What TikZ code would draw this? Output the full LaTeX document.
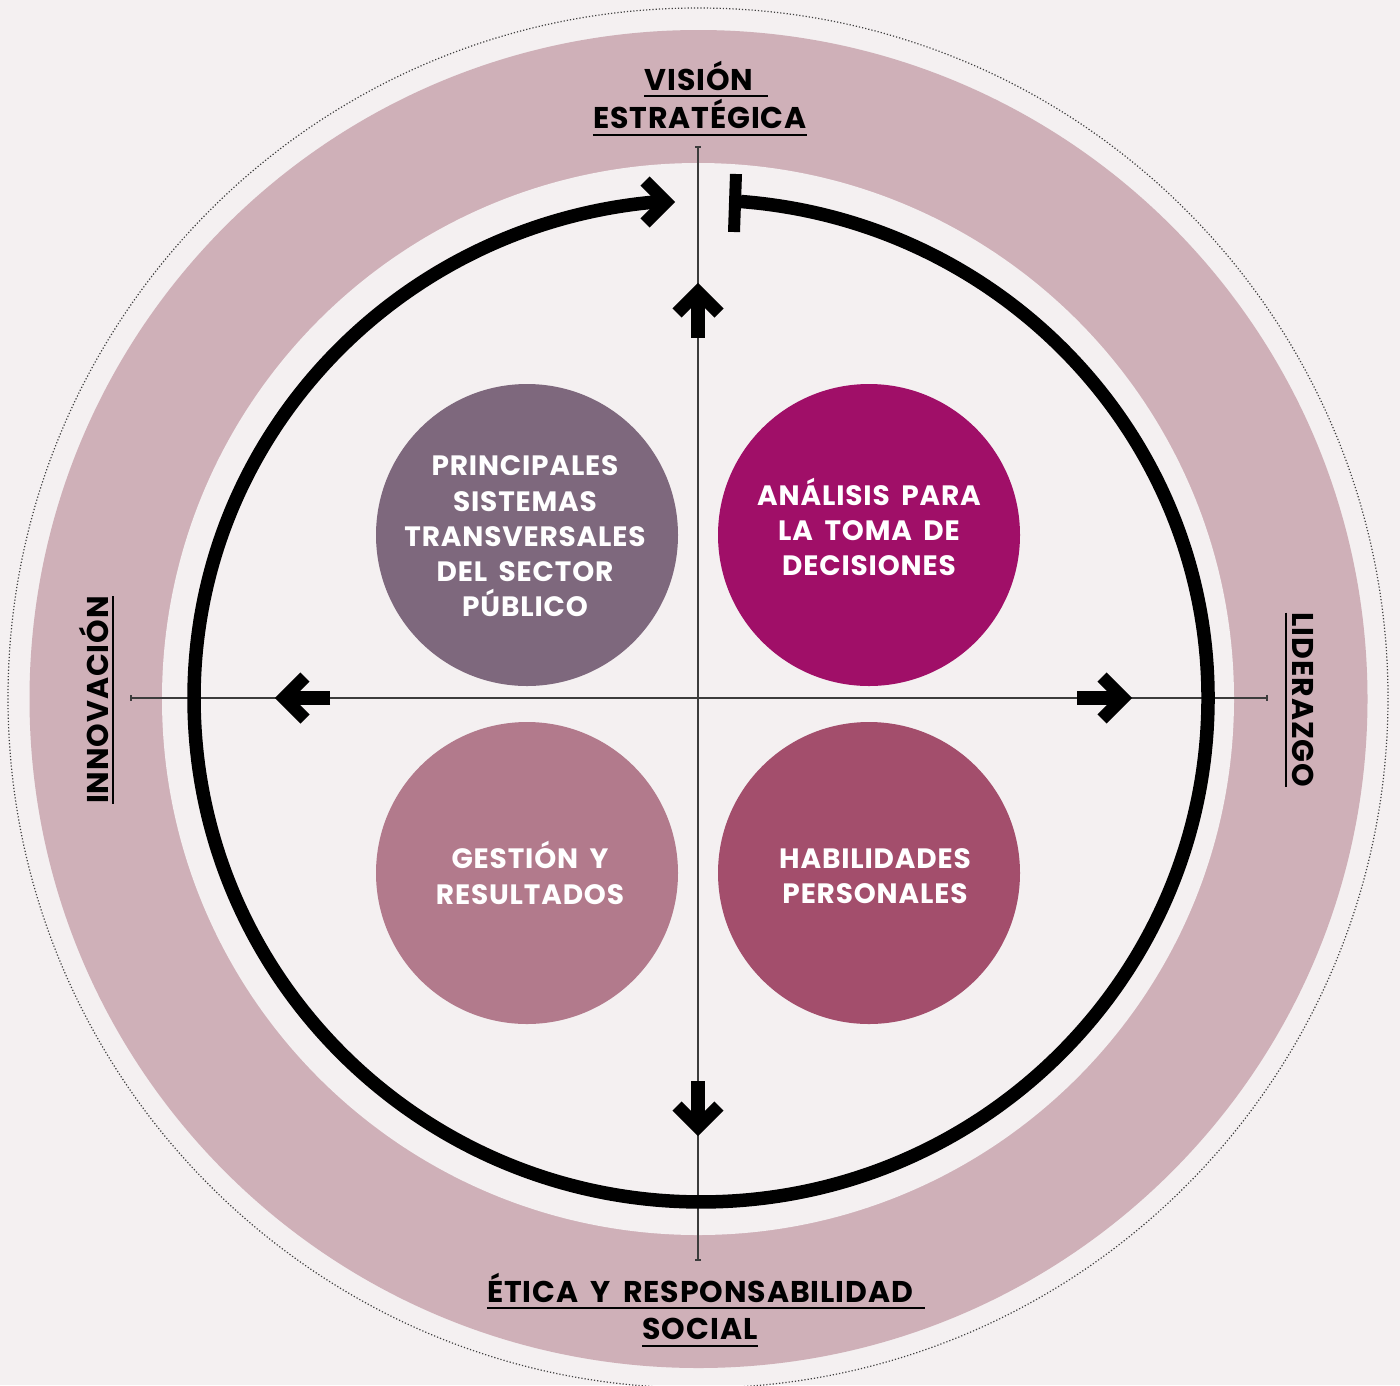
\documentclass[tikz,border=0pt]{standalone}
\usepackage{fontspec}
\setmainfont{Poppins}[LetterSpace=3,WordSpace=1.7]
\definecolor{bg}{HTML}{F4F0F1}
\definecolor{ringc}{HTML}{CFB0B8}
\definecolor{cpur}{HTML}{7E687D}
\definecolor{cmag}{HTML}{A00F68}
\definecolor{crose}{HTML}{B27A8C}
\definecolor{cwine}{HTML}{A34E6C}
\definecolor{axisgray}{HTML}{3C3C3C}
\definecolor{dotgray}{HTML}{404040}
\tikzset{
  axarrow/.pic={
    \draw[line width=13pt, line join=miter, miter limit=4] (-21,-21) -- (0,0) -- (-21,21);
    \draw[line width=14pt] (-46,0) -- (0,0);
  }
}
\begin{document}
\begin{tikzpicture}[x=1pt,y=-1pt,
  lab/.style={font=\fontsize{30}{36}\selectfont\bfseries, inner sep=0pt, text=black},
  ctext/.style={font=\fontsize{28}{35.25}\selectfont\bfseries, text=white, align=center, inner sep=0pt},
  bubble/.style={circle, minimum size=302pt, inner sep=0pt, draw=none},
  uline/.style={line width=2pt, draw=black},
  axisline/.style={line width=1.6pt, draw=axisgray},
  bigring/.style={line width=13.5pt, draw=black},
  chevron/.style={line width=13pt, line join=miter, miter limit=4, draw=black},
]
\fill[bg] (0,0) rectangle (1400,1385);
\useasboundingbox (0,0) rectangle (1400,1385);
% outer dotted circle
\draw[dotgray, line width=1.2pt, dash pattern=on 1.2pt off 2pt] (698,698) circle[radius=690];
% pink ring
\fill[ringc] (698.5,699) circle[radius=669];
\fill[bg] (698,699) circle[radius=536];
% axes
\draw[axisline] (698,147) -- (698,1260);
\draw[axisline] (695,147) -- (701,147);
\draw[axisline] (695,1260) -- (701,1260);
\draw[axisline] (131,698) -- (1267,698);
\draw[axisline] (131,695) -- (131,701);
\draw[axisline] (1267,695) -- (1267,701);
% big black circle with gap
\draw[bigring] (740.8,201.5)
  arc[start angle=274.5, end angle=360, x radius=507, y radius=498]
  arc[start angle=0, end angle=180, x radius=507, y radius=504]
  arc[start angle=180, end angle=265.5, x radius=507, y radius=498]
  -- (666,202);
\draw[chevron] (645,181) -- (666,202) -- (645,223);
\draw[line width=12pt] (736,174) -- (734,232);
% axis arrows
\pic[rotate=90] at (698,292) {axarrow};
\pic at (1123,698) {axarrow};
\pic[rotate=180] at (284,698) {axarrow};
\pic[rotate=-90] at (698,1127) {axarrow};
% bubbles
\node[bubble, fill=cpur] (b1) at (527,535) {};
\node[bubble, fill=cmag] (b2) at (869,535) {};
\node[bubble, fill=crose] (b3) at (527,873) {};
\node[bubble, fill=cwine] (b4) at (869,873) {};
\node[ctext] (t1) at (525,536.5) {PRINCIPALES\\SISTEMAS\\TRANSVERSALES\\DEL SECTOR\\PÚBLICO};
\node[ctext] (t2) at (869,527) {ANÁLISIS PARA\\LA TOMA DE\\DECISIONES};
\node[ctext] (t3) at (530,873) {GESTIÓN Y\\RESULTADOS};
\node[ctext] (t4) at (875,876) {HABILIDADES\\PERSONALES};
% outer labels
\node[lab, anchor=base] (vis1) at (699,90) {VISIÓN};
\node[lab, anchor=base] (vis2) at (700,128) {ESTRATÉGICA};
\draw[uline] ([yshift=-6pt]vis1.base west) -- ([yshift=-6pt,xshift=14pt]vis1.base east);
\draw[uline] ([yshift=-7pt]vis2.base west) -- ([yshift=-7pt]vis2.base east);
\node[lab, anchor=base] (eti1) at (700,1302) {ÉTICA Y RESPONSABILIDAD};
\node[lab, anchor=base] (eti2) at (700,1339) {SOCIAL};
\draw[uline] ([yshift=-6pt]eti1.base west) -- ([yshift=-6pt,xshift=12pt]eti1.base east);
\draw[uline] ([yshift=-7pt]eti2.base west) -- ([yshift=-7pt]eti2.base east);
\node[lab, anchor=base, rotate=90] (inn) at (108,700) {INNOVACIÓN};
\draw[uline] ([xshift=5pt]inn.base west) -- ([xshift=5pt]inn.base east);
\node[lab, anchor=base, rotate=-90] (lid) at (1292,700) {LIDERAZGO};
\draw[uline] ([xshift=-6pt]lid.base west) -- ([xshift=-6pt]lid.base east);
\end{tikzpicture}
\end{document}
